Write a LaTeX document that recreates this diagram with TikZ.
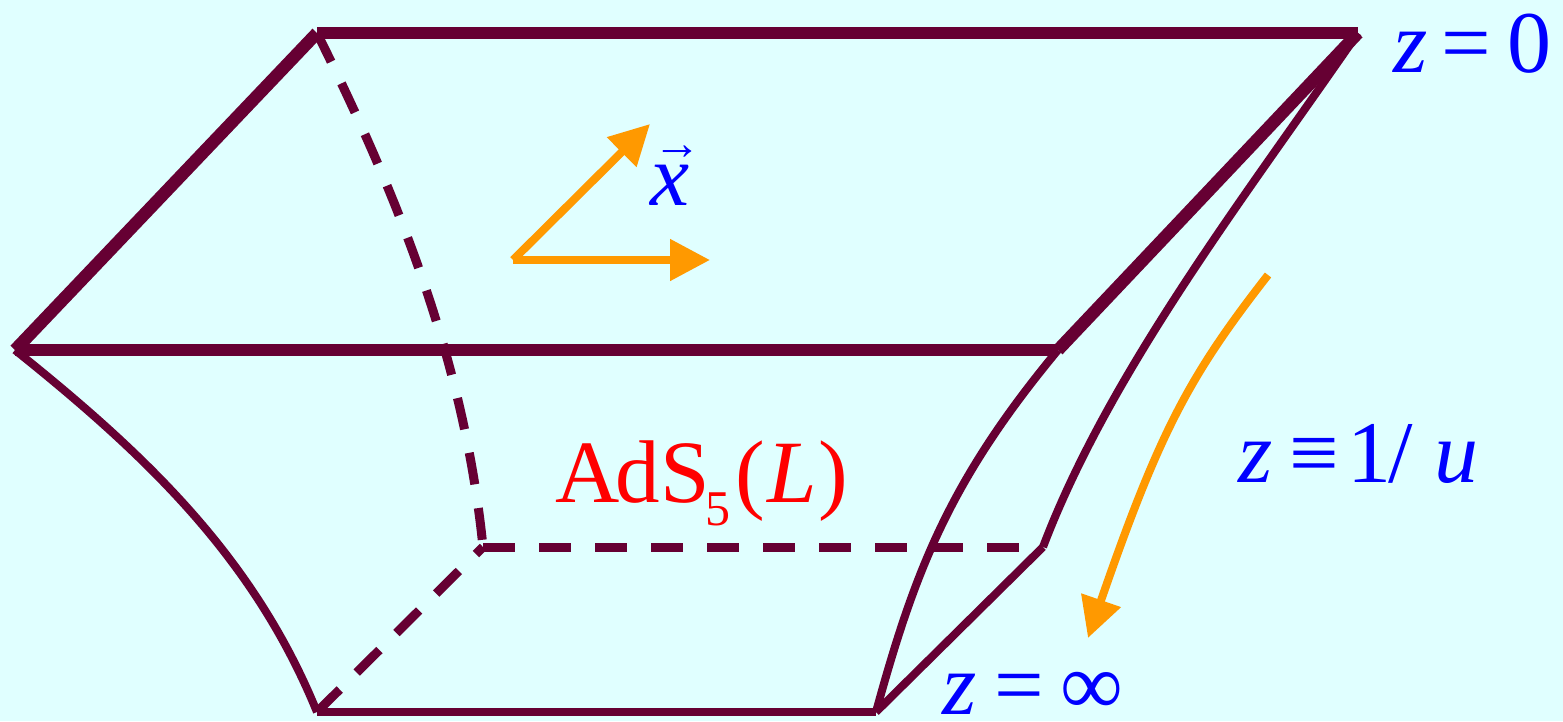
\documentclass[tikz,border=0pt]{standalone}
\usepackage{fontspec}
\setmainfont{Liberation Serif}
\usepackage{xcolor}
\usetikzlibrary{arrows.meta}
\definecolor{bgcyan}{HTML}{E0FFFF}
\definecolor{wine}{HTML}{660033}
\definecolor{amber}{HTML}{FF9900}
\newcommand{\fs}[1]{\fontsize{#1}{#1}\selectfont}

\begin{document}
\begin{tikzpicture}[
  x=1pt, y=-1pt,
  edgeheavy/.style={draw=wine, line width=12.5pt},
  edgethin/.style={draw=wine, line width=8pt},
  edgehidden/.style={draw=wine, line width=9pt, dash pattern=on 32pt off 24pt},
  flow/.style={-{Triangle[length=40pt,width=40pt]}, draw=amber, line width=8pt},
  lbl/.style={anchor=base west, inner sep=0pt, text=blue, font=\fs{88}},
  lblred/.style={anchor=base west, inner sep=0pt, text=red, font=\fs{89}},
]
\useasboundingbox (0,0) rectangle (1563,721);
\fill[bgcyan] (0,0) rectangle (1563,721);

% Corners of the slab
\coordinate (topbackl)   at (317,33);
\coordinate (topbackr)   at (1358,33);
\coordinate (topfrontl)  at (15,350);
\coordinate (topfrontr)  at (1058,350);
\coordinate (botbackl)   at (483,547);
\coordinate (botbackr)   at (1043,547);
\coordinate (botfrontl)  at (317,712);
\coordinate (botfrontr)  at (876,712);

% Boundary at z=0
\draw[edgeheavy] (topbackl) -- (topbackr);
\draw[edgeheavy] (topbackl) -- (topfrontl);
\draw[edgeheavy] (topfrontl) -- (topfrontr);
\draw[edgeheavy] (topfrontr) -- (topbackr);

% Hidden edges
\draw[edgehidden] (topbackl) .. controls (405,210) and (465,370) .. (botbackl);
\draw[edgehidden] (botbackl) -- (botbackr);
\draw[edgehidden] (botfrontl) -- (botbackl);

% Horizon at the bottom
\draw[edgethin] (botfrontl) -- (botfrontr);
\draw[edgethin] (botfrontr) -- (botbackr);

% Side curves
\draw[edgethin] (topfrontl) .. controls (150,458) and (255,560) .. (botfrontl);
\draw[edgethin] (topfrontr) .. controls (950,480) and (915,570) .. (botfrontr);
\draw[edgethin] (topbackr) .. controls (1250,190) and (1110,370) .. (botbackr);

% Orange arrows
\coordinate (xorigin) at (513,260);
\coordinate (xtipa)   at (710,260);
\coordinate (xtipb)   at (650,124);
\coordinate (zstart)  at (1268,275);
\coordinate (ztip)    at (1088,638);
\draw[flow] (xorigin) -- (xtipa);
\draw[flow] (xorigin) -- (xtipb);
\draw[flow] (zstart) .. controls (1190,375) and (1160,430) .. (ztip);

% Labels
\node[lbl] (zzero) at (1393,72) {\textit{z}\hspace{14pt}=\hspace{16pt}0};
\node[lbl] (vecx)  at (650,205) {\rlap{\raisebox{46pt}{\hspace{3pt}\fs{48}\bfseries\char"2192}}\textit{x}};
\node[lbl] (zdef)  at (1238,482) {\textit{z}\hspace{17pt}≡\hspace{8pt}1\hspace{-3pt}/\hspace{22pt}\textit{u}};
\node[lbl] (zinf)  at (942,714) {\textit{z}\hspace{18pt}=\hspace{16pt}∞};
\node[lblred] (ads) at (555,502) {A\kern-4pt dS\kern-4pt\raisebox{-23pt}{\fs{50}5}\hspace{5pt}(\hspace{2pt}\textit{L}\hspace{2pt})};
\end{tikzpicture}
\end{document}
